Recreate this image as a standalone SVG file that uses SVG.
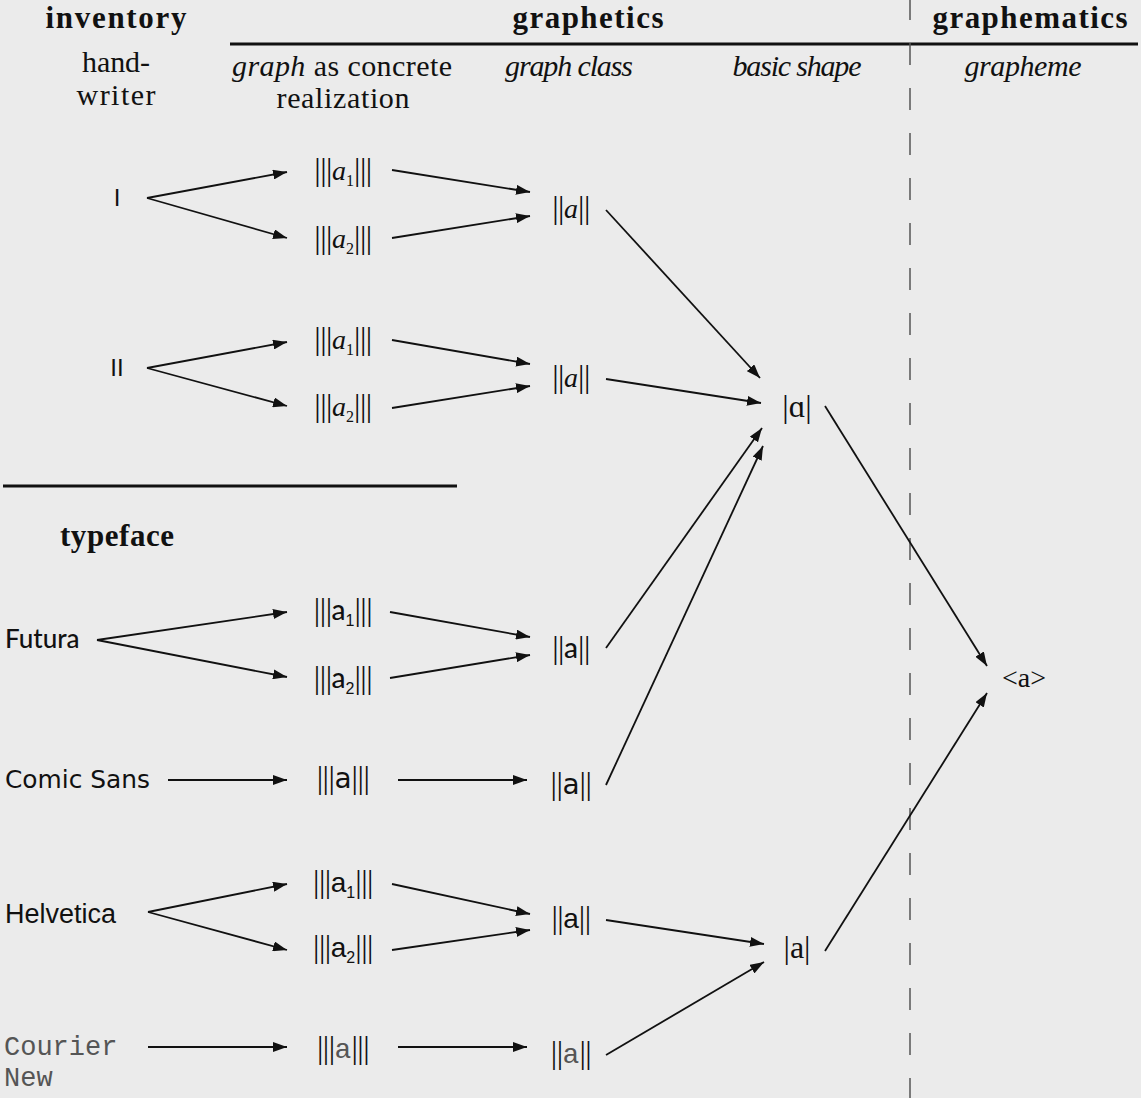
<svg xmlns="http://www.w3.org/2000/svg" width="1141" height="1098" viewBox="0 0 1141 1098">
  <defs>
    <style>
      .hd { font-family: "Liberation Serif", "DejaVu Serif", serif; font-weight: bold; font-size: 31px; fill: #111; }
      .sub-hd { font-family: "Liberation Serif", "DejaVu Serif", serif; font-size: 30px; fill: #111; }
      .it { font-style: italic; }
      .bar { font-family: "Liberation Serif", "DejaVu Serif", serif; font-size: 32px; letter-spacing: -0.5px; }
      .lbl { font-size: 28px; fill: #111; }
      .ser { font-family: "Liberation Serif", "DejaVu Serif", serif; }
      .serit { font-family: "Liberation Serif", "DejaVu Serif", serif; font-style: italic; }
      .fut { font-family: Lato, "Noto Sans", sans-serif; font-weight: 500; }
      .com { font-family: "DejaVu Sans", sans-serif; }
      .hel { font-family: "Liberation Sans", Arial, sans-serif; }
      .cou { font-family: "Liberation Mono", "Courier New", monospace; fill: #555; }
      .idx { font-size: 16px; }
      .conn line { stroke: #111; stroke-width: 1.8; marker-end: url(#arrow); }
      .rule { stroke: #111; stroke-width: 3; }
    </style>
    <marker id="arrow" markerUnits="userSpaceOnUse" markerWidth="14" markerHeight="10" refX="14" refY="5" orient="auto">
      <path d="M0,0 L14,5 L0,10 z" fill="#111"/>
    </marker>
  </defs>

  <rect width="1141" height="1098" fill="#ebebeb"/>

  <!-- column headings -->
  <g id="headings">
    <text class="hd" x="116" y="28" text-anchor="middle" textLength="141">inventory</text>
    <text class="hd" x="588" y="28" text-anchor="middle" textLength="151">graphetics</text>
    <text class="hd" x="1030" y="28" text-anchor="middle" textLength="195">graphematics</text>
    <line class="rule" x1="230" y1="44" x2="1138" y2="44"/>
    <text class="sub-hd" x="116" y="72" text-anchor="middle" textLength="68">hand-</text>
    <text class="sub-hd" x="116" y="105" text-anchor="middle" textLength="79">writer</text>
    <text class="sub-hd" x="342" y="76" text-anchor="middle" textLength="220"><tspan class="it">graph</tspan> as concrete</text>
    <text class="sub-hd" x="343" y="108" text-anchor="middle" textLength="133">realization</text>
    <text class="sub-hd it" x="569" y="76" text-anchor="middle" textLength="128">graph class</text>
    <text class="sub-hd it" x="797" y="76" text-anchor="middle" textLength="129">basic shape</text>
    <text class="sub-hd it" x="1023" y="76" text-anchor="middle" textLength="117">grapheme</text>
    <line class="rule" x1="3" y1="486" x2="457" y2="486"/>
    <text class="hd" x="117" y="546" text-anchor="middle" textLength="114">typeface</text>
    <line x1="910" y1="-2" x2="910" y2="1098" stroke="#555" stroke-width="1.5" stroke-dasharray="22 23"/>
  </g>

  <!-- handwriter I -->
  <g id="hw1"><text class="lbl hel" x="117" y="206" text-anchor="middle" style="font-size:24px">I</text></g>
  <g id="hw1-a1"><text class="lbl" x="343" y="180" text-anchor="middle"><tspan class="bar">|||</tspan><tspan class="serit">a</tspan><tspan class="idx ser" dy="6">1</tspan><tspan class="bar" dy="-6">|||</tspan></text></g>
  <g id="hw1-a2"><text class="lbl" x="343" y="248" text-anchor="middle"><tspan class="bar">|||</tspan><tspan class="serit">a</tspan><tspan class="idx ser" dy="6">2</tspan><tspan class="bar" dy="-6">|||</tspan></text></g>
  <g id="hw1-class"><text class="lbl" x="571" y="218" text-anchor="middle"><tspan class="bar">||</tspan><tspan class="serit">a</tspan><tspan class="bar">||</tspan></text></g>

  <!-- handwriter II -->
  <g id="hw2"><text class="lbl hel" x="117" y="376" text-anchor="middle" style="font-size:24px">II</text></g>
  <g id="hw2-a1"><text class="lbl" x="343" y="349" text-anchor="middle"><tspan class="bar">|||</tspan><tspan class="serit">a</tspan><tspan class="idx ser" dy="6">1</tspan><tspan class="bar" dy="-6">|||</tspan></text></g>
  <g id="hw2-a2"><text class="lbl" x="343" y="416" text-anchor="middle"><tspan class="bar">|||</tspan><tspan class="serit">a</tspan><tspan class="idx ser" dy="6">2</tspan><tspan class="bar" dy="-6">|||</tspan></text></g>
  <g id="hw2-class"><text class="lbl" x="571" y="387" text-anchor="middle"><tspan class="bar">||</tspan><tspan class="serit">a</tspan><tspan class="bar">||</tspan></text></g>

  <!-- basic shapes and grapheme -->
  <g id="shape-alpha"><text class="lbl ser" x="797" y="417" text-anchor="middle" style="font-size:32px">|ɑ|</text></g>
  <g id="shape-a"><text class="lbl ser" x="797" y="958" text-anchor="middle" style="font-size:32px">|a|</text></g>
  <g id="grapheme"><text class="lbl ser" x="1024" y="687" text-anchor="middle">&lt;a&gt;</text></g>

  <!-- Futura -->
  <g id="futura"><text class="lbl fut" x="5" y="648" style="font-size:26px">Futura</text></g>
  <g id="fut-a1"><text class="lbl" x="343" y="620" text-anchor="middle"><tspan class="bar">|||</tspan><tspan class="fut">a</tspan><tspan class="idx hel" dy="6">1</tspan><tspan class="bar" dy="-6">|||</tspan></text></g>
  <g id="fut-a2"><text class="lbl" x="343" y="688" text-anchor="middle"><tspan class="bar">|||</tspan><tspan class="fut">a</tspan><tspan class="idx hel" dy="6">2</tspan><tspan class="bar" dy="-6">|||</tspan></text></g>
  <g id="fut-class"><text class="lbl" x="571" y="658" text-anchor="middle"><tspan class="bar">||</tspan><tspan class="fut">a</tspan><tspan class="bar">||</tspan></text></g>

  <!-- Comic Sans -->
  <g id="comic"><text class="lbl com" x="5" y="788" style="font-size:24px" textLength="145" lengthAdjust="spacingAndGlyphs">Comic Sans</text></g>
  <g id="com-a"><text class="lbl" x="343" y="788" text-anchor="middle"><tspan class="bar">|||</tspan><tspan class="com">a</tspan><tspan class="bar">|||</tspan></text></g>
  <g id="com-class"><text class="lbl" x="571" y="794" text-anchor="middle"><tspan class="bar">||</tspan><tspan class="com">a</tspan><tspan class="bar">||</tspan></text></g>

  <!-- Helvetica -->
  <g id="helvetica"><text class="lbl hel" x="5" y="923" style="font-size:27px">Helvetica</text></g>
  <g id="hel-a1"><text class="lbl" x="343" y="892" text-anchor="middle"><tspan class="bar">|||</tspan><tspan class="hel">a</tspan><tspan class="idx hel" dy="6">1</tspan><tspan class="bar" dy="-6">|||</tspan></text></g>
  <g id="hel-a2"><text class="lbl" x="343" y="957" text-anchor="middle"><tspan class="bar">|||</tspan><tspan class="hel">a</tspan><tspan class="idx hel" dy="6">2</tspan><tspan class="bar" dy="-6">|||</tspan></text></g>
  <g id="hel-class"><text class="lbl" x="571" y="928" text-anchor="middle"><tspan class="bar">||</tspan><tspan class="hel">a</tspan><tspan class="bar">||</tspan></text></g>

  <!-- Courier New -->
  <g id="courier"><text class="lbl cou" x="4" y="1055" style="font-size:27px">Courier<tspan x="4" dy="31">New</tspan></text></g>
  <g id="cou-a"><text class="lbl" x="343" y="1058" text-anchor="middle"><tspan class="bar">|||</tspan><tspan class="cou">a</tspan><tspan class="bar">|||</tspan></text></g>
  <g id="cou-class"><text class="lbl" x="571" y="1063" text-anchor="middle"><tspan class="bar">||</tspan><tspan class="cou">a</tspan><tspan class="bar">||</tspan></text></g>

  <!-- connectors -->
  <g id="connectors" class="conn">
    <line x1="147" y1="198" x2="287" y2="172"/>
    <line x1="147" y1="198" x2="287" y2="238"/>
    <line x1="392" y1="170" x2="530" y2="192"/>
    <line x1="392" y1="238" x2="530" y2="216"/>
    <line x1="606" y1="210" x2="760" y2="378"/>

    <line x1="147" y1="368" x2="287" y2="342"/>
    <line x1="147" y1="368" x2="287" y2="406"/>
    <line x1="392" y1="340" x2="530" y2="364"/>
    <line x1="392" y1="408" x2="530" y2="386"/>
    <line x1="606" y1="379" x2="761" y2="403"/>

    <line x1="97" y1="640" x2="287" y2="612"/>
    <line x1="97" y1="640" x2="287" y2="677"/>
    <line x1="390" y1="612" x2="530" y2="637"/>
    <line x1="390" y1="678" x2="530" y2="655"/>
    <line x1="606" y1="648" x2="762" y2="428"/>

    <line x1="168" y1="780" x2="287" y2="780"/>
    <line x1="398" y1="780" x2="527" y2="780"/>
    <line x1="606" y1="785" x2="763" y2="446"/>

    <line x1="148" y1="912" x2="287" y2="884"/>
    <line x1="148" y1="912" x2="287" y2="950"/>
    <line x1="392" y1="884" x2="530" y2="914"/>
    <line x1="392" y1="950" x2="530" y2="930"/>
    <line x1="606" y1="920" x2="764" y2="944"/>

    <line x1="148" y1="1047" x2="287" y2="1047"/>
    <line x1="398" y1="1047" x2="527" y2="1047"/>
    <line x1="606" y1="1055" x2="764" y2="962"/>

    <line x1="825" y1="406" x2="987" y2="666"/>
    <line x1="825" y1="951" x2="987" y2="693"/>
  </g>
</svg>
